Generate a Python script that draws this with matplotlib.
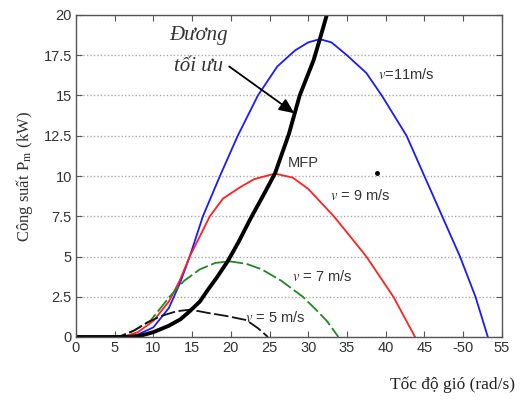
import matplotlib
matplotlib.use("Agg")
import matplotlib.pyplot as plt

plt.rcParams["mathtext.fontset"] = "stix"

# toc do quay (rad/s) va cong suat (kW) doc tu hinh
v11_x = [0, 6, 8, 10, 12, 13.4, 14.7, 16.4, 18.6, 20.9, 23.5, 26, 28.3, 30, 31.5, 33, 35, 37.5, 39.5, 42.7, 45, 47.3, 49.6, 51.6, 53.2]
v11_y = [0, 0, 0.15, 0.6, 1.8, 3.3, 5, 7.5, 10, 12.5, 15, 16.8, 17.8, 18.3, 18.5, 18.3, 17.5, 16.4, 15, 12.5, 10, 7.5, 5, 2.5, 0]

v9_x = [0, 6, 8, 10, 12, 13.4, 14.7, 17.3, 19, 21.2, 23, 25.7, 28, 30, 33.3, 35.5, 37.5, 41, 43.8]
v9_y = [0, 0, 0.3, 1.0, 2.2, 3.5, 5, 7.5, 8.6, 9.3, 9.8, 10.15, 9.9, 9.2, 7.5, 6.2, 5, 2.5, 0]

v7_x = [0, 5.5, 7.5, 9.6, 12.1, 14, 16, 18, 19.8, 22, 24, 26.5, 29.3, 31, 32.4, 33.9]
v7_y = [0, 0, 0.4, 1.0, 2.5, 3.5, 4.2, 4.6, 4.7, 4.55, 4.2, 3.5, 2.5, 1.7, 1.0, 0]

v5_x = [0, 5.5, 7.5, 9.2, 11, 13, 14.8, 17, 19.5, 22, 23.5, 24.8]
v5_y = [0, 0, 0.4, 0.9, 1.3, 1.6, 1.7, 1.5, 1.3, 1.05, 0.55, 0]

opt_x = [0, 7, 8.5, 10, 12, 13.5, 14.7, 16, 17, 18.2, 19.6, 21, 22.6, 24.2, 25.7, 27.5, 28.9, 30.7, 31.5, 32.4]
opt_y = [0, 0, 0.1, 0.3, 0.7, 1.1, 1.6, 2.2, 2.9, 3.7, 4.7, 5.9, 7.4, 8.8, 10.15, 12.6, 15, 17.2, 18.5, 20]

x_ticks = [0, 5, 10, 15, 20, 25, 30, 35, 40, 45, 50, 55]
x_tick_labels = ["0", "5", "10", "15", "20", "25", "30", "35", "40", "45", "-50", "55"]
y_ticks = [0, 2.5, 5, 7.5, 10, 12.5, 15, 17.5, 20]
y_tick_labels = ["0", "2.5", "5", "7.5", "10", "12.5", "15", "17.5", "20"]

fig = plt.figure(figsize=(5.2, 4.0), dpi=100)
ax = fig.add_axes([0.146, 0.1575, 0.819, 0.805])

ax.plot(v11_x, v11_y, color="#1a1aff", lw=1.3)
ax.plot(v9_x, v9_y, color="#ff2020", lw=1.3)
ax.plot(v7_x, v7_y, color="#1f8a1f", lw=1.3, ls=(0, (8, 2)))
ax.plot(v5_x, v5_y, color="#111111", lw=1.3, ls=(0, (8, 2)))
ax.plot(opt_x, opt_y, color="black", lw=2.8)
ax.plot([38.9], [10.2], "o", color="black", ms=2.5)

ax.set_xlim(0, 55)
ax.set_ylim(0, 20)
ax.set_xticks(x_ticks)
ax.set_xticklabels(x_tick_labels)
ax.set_yticks(y_ticks)
ax.set_yticklabels(y_tick_labels)
ax.tick_params(direction="in", length=4, top=True, right=True, colors="#555555",
               labelcolor="#333333", labelsize=10.5, pad=3)
for lab in ax.get_xticklabels() + ax.get_yticklabels():
    lab.set_family("Liberation Sans")
for sp in ax.spines.values():
    sp.set_color("#555555")
    sp.set_linewidth(1.0)
ax.yaxis.grid(True, color="#aaaaaa", ls=(0, (1, 1.5)), lw=1.0)
ax.set_axisbelow(True)

sans = "Liberation Sans"
ax.text(39.0, 16.3, r"$\mathit{v}$=11m/s", fontsize=10.5, family=sans, color="#333333", va="center")
ax.text(32.8, 8.8, r"$\mathit{v}$ = 9 m/s", fontsize=10.5, family=sans, color="#333333", va="center")
ax.text(27.9, 3.75, r"$\mathit{v}$ = 7 m/s", fontsize=10.5, family=sans, color="#333333", va="center")
ax.text(21.8, 1.2, r"$\mathit{v}$ = 5 m/s", fontsize=10.5, family=sans, color="#333333", va="center")
ax.text(27.4, 10.8, "MFP", fontsize=10.5, family=sans, color="#333333", va="center")

ax.text(15.8, 18.7, "Đương", fontsize=15, family="Liberation Serif", style="italic",
        color="#333333", ha="center", va="center")
ax.text(15.8, 16.8, "tối ưu", fontsize=15, family="Liberation Serif", style="italic",
        color="#333333", ha="center", va="center")
ax.annotate("", xy=(28.2, 13.9), xytext=(19.8, 16.8),
            arrowprops=dict(arrowstyle="-|>,head_length=0.9,head_width=0.4",
                            color="black", lw=1.3, shrinkA=0, shrinkB=0))

fig.text(0.048, 0.56, r"Công suất P$_{\mathrm{m}}$ (kW)", rotation=90, fontsize=12,
         family="Liberation Serif", color="#333333", ha="center", va="center")
fig.text(0.99, 0.0375, "Tốc độ gió (rad/s)", fontsize=12.5, family="Liberation Serif",
         color="#222222", ha="right", va="center")

fig.savefig("out.png", dpi=100, facecolor="white")
